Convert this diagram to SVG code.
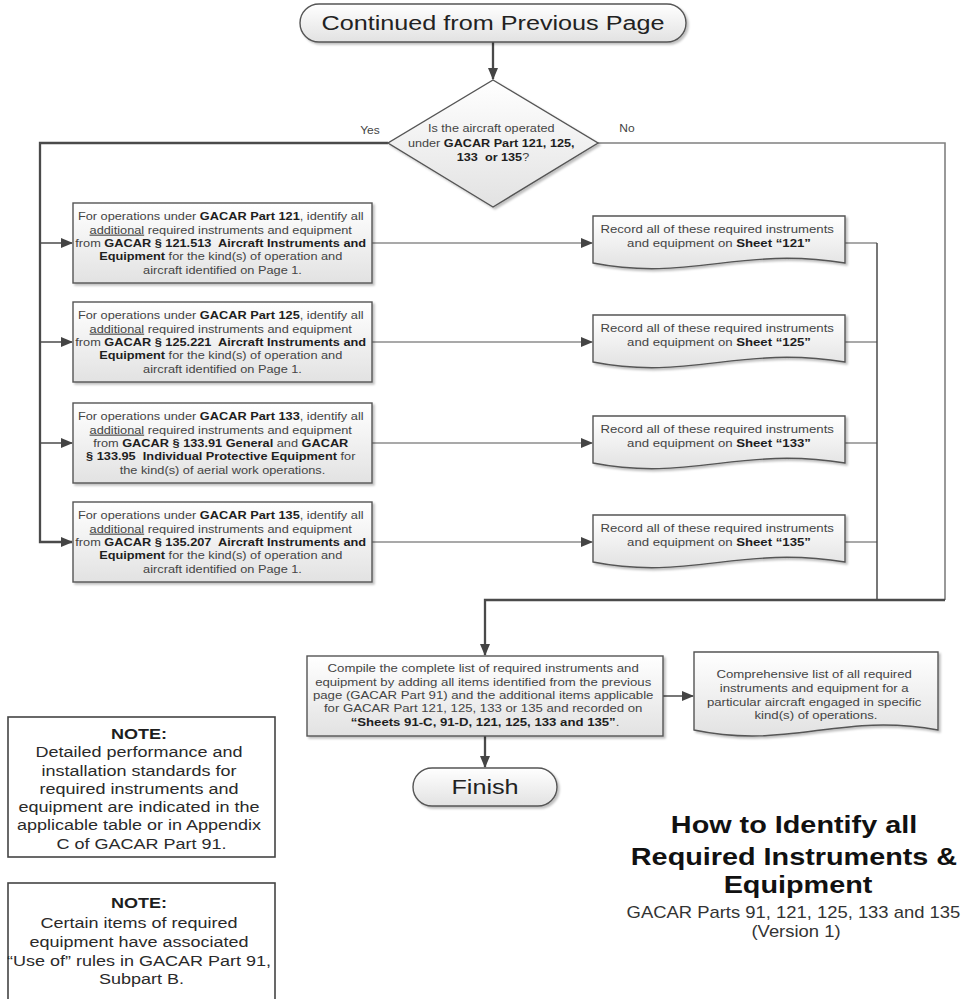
<svg xmlns="http://www.w3.org/2000/svg" width="969" height="999" viewBox="0 0 969 999">
<defs>
<linearGradient id="g" x1="0" y1="0" x2="0" y2="1"><stop offset="0" stop-color="#ffffff"/><stop offset="1" stop-color="#e2e2e2"/></linearGradient>
<filter id="sh" x="-10%" y="-10%" width="130%" height="140%"><feDropShadow dx="2" dy="2" stdDeviation="1.2" flood-color="#000" flood-opacity="0.25"/></filter>
<marker id="ah" markerUnits="userSpaceOnUse" markerWidth="12" markerHeight="10" refX="11" refY="5" orient="auto"><path d="M0,0 L12,5 L0,10 Z" fill="#444"/></marker>
</defs>
<style>
.shape{fill:url(#g);stroke:#555;stroke-width:1.4;filter:url(#sh)}
.note{fill:#fff;stroke:#444;stroke-width:1.6}
.t{font-family:"Liberation Sans",Arial,sans-serif;font-size:11px;fill:#444;text-anchor:middle}
.big{font-size:21px;fill:#222}
.nt{font-size:15px;fill:#2a2a2a}
.ttl{font-size:24px;font-weight:bold;fill:#111}
.sub{font-size:15.75px;fill:#333}
.b{font-weight:bold;fill:#1e1e1e}
.u{text-decoration:underline}
.c{fill:none;stroke:#4a4a4a}
.thick{stroke-width:2.3}
.mid{stroke-width:1.5}
.thin{stroke-width:1.2;stroke:#555}
.lt{stroke:#808080;stroke-width:1.6}
</style>
<rect width="969" height="999" fill="#fff"/>

<g id="connectors">
  <path class="c thick" d="M493,42 V79" marker-end="url(#ah)"/>
  <path class="c thick" d="M388,143 H40 V542 H72" marker-end="url(#ah)"/>
  <path class="c mid" d="M40,243 H72" marker-end="url(#ah)"/>
  <path class="c mid" d="M40,342 H72" marker-end="url(#ah)"/>
  <path class="c mid" d="M40,443 H72" marker-end="url(#ah)"/>
  <path class="c thin" d="M372,243 H592" marker-end="url(#ah)"/>
  <path class="c thin" d="M372,342 H592" marker-end="url(#ah)"/>
  <path class="c thin" d="M372,443 H592" marker-end="url(#ah)"/>
  <path class="c thin" d="M372,542 H592" marker-end="url(#ah)"/>
  <path class="c thin" d="M845,243 H877 M845,342 H877 M845,443 H877 M845,542 H877"/>
  <path class="c mid" d="M877,243 V600"/>
  <path class="c lt" d="M598,143 H945 V600"/>
  <path class="c thick" d="M945,600 H485 V655" marker-end="url(#ah)"/>
  <path class="c mid" d="M663,696 H693" marker-end="url(#ah)"/>
  <path class="c thick" d="M485,736 V767" marker-end="url(#ah)"/>
</g>

<g id="start">
  <rect class="shape" x="300" y="4" width="386" height="38" rx="19"/>
  <text class="t big" transform="matrix(1.2 0 0 1 493 0)" x="0" y="30.5">Continued from Previous Page</text>
</g>

<g id="decision">
  <polygon class="shape" points="493,80 598,143 493,207 388,143"/>
  <text class="t" transform="matrix(1.15 0 0 1 493 0)">
    <tspan x="0" y="132">Is the aircraft operated</tspan>
    <tspan x="0" y="147">under <tspan class="b">GACAR Part 121, 125,</tspan></tspan>
    <tspan x="0" y="161"><tspan class="b">133&#160; or 135</tspan>?</tspan>
  </text>
  <text class="t" style="font-size:10px" transform="matrix(1.2 0 0 1 370 0)" x="0" y="134">Yes</text>
  <text class="t" style="font-size:10px" transform="matrix(1.2 0 0 1 627 0)" x="0" y="132">No</text>
</g>

<g id="box121">
  <rect class="shape" x="73" y="203" width="299" height="80"/>
  <text class="t" transform="matrix(1.16 0 0 1 222.5 0)">
    <tspan x="0" y="220.4">For operations under <tspan class="b">GACAR Part 121</tspan>, identify all</tspan>
    <tspan x="0" y="233.7"><tspan class="u">additional</tspan> required instruments and equipment</tspan>
    <tspan x="0" y="247">from <tspan class="b">GACAR § 121.513&#160; Aircraft Instruments and</tspan></tspan>
    <tspan x="0" y="260.3"><tspan class="b">Equipment</tspan> for the kind(s) of operation and</tspan>
    <tspan x="0" y="273.6">aircraft identified on Page 1.</tspan>
  </text>
</g>

<g id="box125">
  <rect class="shape" x="73" y="302" width="299" height="80"/>
  <text class="t" transform="matrix(1.16 0 0 1 222.5 0)">
    <tspan x="0" y="319.4">For operations under <tspan class="b">GACAR Part 125</tspan>, identify all</tspan>
    <tspan x="0" y="332.7"><tspan class="u">additional</tspan> required instruments and equipment</tspan>
    <tspan x="0" y="346">from <tspan class="b">GACAR § 125.221&#160; Aircraft Instruments and</tspan></tspan>
    <tspan x="0" y="359.3"><tspan class="b">Equipment</tspan> for the kind(s) of operation and</tspan>
    <tspan x="0" y="372.6">aircraft identified on Page 1.</tspan>
  </text>
</g>

<g id="box133">
  <rect class="shape" x="73" y="403" width="299" height="80"/>
  <text class="t" transform="matrix(1.16 0 0 1 222.5 0)">
    <tspan x="0" y="420.4">For operations under <tspan class="b">GACAR Part 133</tspan>, identify all</tspan>
    <tspan x="0" y="433.7"><tspan class="u">additional</tspan> required instruments and equipment</tspan>
    <tspan x="0" y="447">from <tspan class="b">GACAR § 133.91 General</tspan> and <tspan class="b">GACAR</tspan></tspan>
    <tspan x="0" y="460.3"><tspan class="b">§ 133.95&#160; Individual Protective Equipment</tspan> for</tspan>
    <tspan x="0" y="473.6">the kind(s) of aerial work operations.</tspan>
  </text>
</g>

<g id="box135">
  <rect class="shape" x="73" y="502" width="299" height="80"/>
  <text class="t" transform="matrix(1.16 0 0 1 222.5 0)">
    <tspan x="0" y="519.4">For operations under <tspan class="b">GACAR Part 135</tspan>, identify all</tspan>
    <tspan x="0" y="532.7"><tspan class="u">additional</tspan> required instruments and equipment</tspan>
    <tspan x="0" y="546">from <tspan class="b">GACAR § 135.207&#160; Aircraft Instruments and</tspan></tspan>
    <tspan x="0" y="559.3"><tspan class="b">Equipment</tspan> for the kind(s) of operation and</tspan>
    <tspan x="0" y="572.6">aircraft identified on Page 1.</tspan>
  </text>
</g>

<g id="sheet121">
  <path class="shape" d="M593,216 H845 V263 C740,246 690,282 593,263 Z"/>
  <text class="t" transform="matrix(1.2 0 0 1 719 0)">
    <tspan x="0" y="233">Record all of these required instruments</tspan>
    <tspan x="0" y="247">and equipment on <tspan class="b">Sheet “121”</tspan></tspan>
  </text>
</g>
<g id="sheet125">
  <path class="shape" d="M593,315 H845 V362 C740,345 690,381 593,362 Z"/>
  <text class="t" transform="matrix(1.2 0 0 1 719 0)">
    <tspan x="0" y="332">Record all of these required instruments</tspan>
    <tspan x="0" y="346">and equipment on <tspan class="b">Sheet “125”</tspan></tspan>
  </text>
</g>
<g id="sheet133">
  <path class="shape" d="M593,416 H845 V463 C740,446 690,482 593,463 Z"/>
  <text class="t" transform="matrix(1.2 0 0 1 719 0)">
    <tspan x="0" y="433">Record all of these required instruments</tspan>
    <tspan x="0" y="447">and equipment on <tspan class="b">Sheet “133”</tspan></tspan>
  </text>
</g>
<g id="sheet135">
  <path class="shape" d="M593,515 H845 V562 C740,545 690,581 593,562 Z"/>
  <text class="t" transform="matrix(1.2 0 0 1 719 0)">
    <tspan x="0" y="532">Record all of these required instruments</tspan>
    <tspan x="0" y="546">and equipment on <tspan class="b">Sheet “135”</tspan></tspan>
  </text>
</g>

<g id="compile">
  <rect class="shape" x="307" y="656" width="356" height="80"/>
  <text class="t" transform="matrix(1.2 0 0 1 485 0)">
    <tspan x="0" y="672.4">Compile the complete list of required instruments and</tspan>
    <tspan x="0" y="685.7">equipment by adding all items identified from the previous</tspan>
    <tspan x="0" y="699">page (GACAR Part 91) and the additional items applicable</tspan>
    <tspan x="0" y="712.3">for GACAR Part 121, 125, 133 or 135 and recorded on</tspan>
    <tspan x="0" y="725.6"><tspan class="b">“Sheets 91-C, 91-D, 121, 125, 133 and 135”</tspan>.</tspan>
  </text>
</g>

<g id="comprehensive">
  <path class="shape" d="M694,652 H938 V730 C840,712 790,750 694,730 Z"/>
  <text class="t" transform="matrix(1.2 0 0 1 816 0)">
    <tspan x="0" y="678">Comprehensive list of all required</tspan>
    <tspan x="0" y="692">instruments and equipment for a</tspan>
    <tspan x="0" y="706">particular aircraft engaged in specific</tspan>
    <tspan x="0" y="719.5">kind(s) of operations.</tspan>
  </text>
</g>

<g id="finish">
  <rect class="shape" x="413" y="768" width="144" height="38" rx="19"/>
  <text class="t big" transform="matrix(1.2 0 0 1 485 0)" x="0" y="794.5">Finish</text>
</g>

<g id="note1">
  <rect class="note" x="8" y="717" width="267" height="140"/>
  <text class="t nt" transform="matrix(1.2 0 0 1 141.5 0)">
    <tspan x="0" y="739" class="b">NOTE:</tspan>
    <tspan x="0" y="757.3">Detailed performance and</tspan>
    <tspan x="0" y="775.6">installation standards for</tspan>
    <tspan x="0" y="793.9">required instruments and</tspan>
    <tspan x="0" y="812.2">equipment are indicated in the</tspan>
    <tspan x="0" y="830.5">applicable table or in Appendix</tspan>
    <tspan x="0" y="848.8">C of GACAR Part 91.</tspan>
  </text>
</g>

<g id="note2">
  <rect class="note" x="8" y="883" width="267" height="125"/>
  <text class="t nt" transform="matrix(1.2 0 0 1 141.5 0)">
    <tspan x="0" y="908.5" class="b">NOTE:</tspan>
    <tspan x="0" y="928.5">Certain items of required</tspan>
    <tspan x="0" y="947.5">equipment have associated</tspan>
    <tspan x="0" y="966.5">“Use of” rules in GACAR Part 91,</tspan>
    <tspan x="0" y="984.5">Subpart B.</tspan>
  </text>
</g>

<g id="title">
  <text class="t ttl" transform="matrix(1.2 0 0 1 798 0)">
    <tspan x="0" y="833.5">How to Identify all</tspan>
    <tspan x="0" y="865.5">Required Instruments &amp;</tspan>
    <tspan x="0" y="893.5">Equipment</tspan>
  </text>
  <text class="t sub" transform="matrix(1.17 0 0 1 796 0)">
    <tspan x="0" y="917.6">GACAR Parts 91, 121, 125, 133 and 135</tspan>
    <tspan x="0" y="936.6">(Version 1)</tspan>
  </text>
</g>
</svg>
